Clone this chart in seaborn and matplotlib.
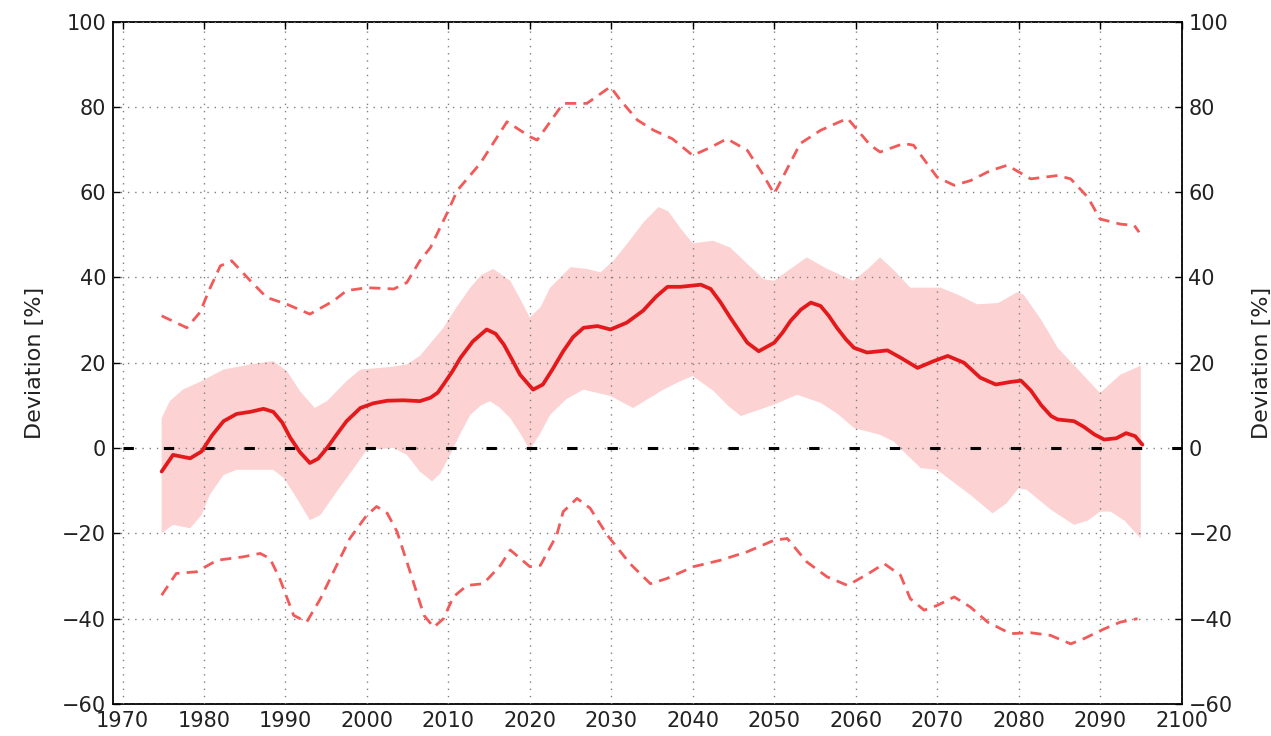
import numpy as np
import matplotlib
matplotlib.use("Agg")
import matplotlib.pyplot as plt
import seaborn as sns

# Ensemble mean deviation [%]
mean_years = [1974.8, 1976.2, 1978.3, 1979.7, 1981.0, 1982.4, 1984.0, 1985.7, 1987.3, 1988.5,
              1989.6, 1990.6, 1991.8, 1993.0, 1994.0, 1995.1, 1996.3, 1997.5, 1999.2, 2000.8,
              2002.5, 2004.5, 2006.5, 2007.8, 2008.7, 2009.4, 2010.5, 2011.5, 2013.0, 2014.7,
              2015.8, 2016.8, 2017.8, 2018.8, 2020.4, 2021.6, 2022.8, 2024.1, 2025.3, 2026.6,
              2028.3, 2029.9, 2031.9, 2033.9, 2035.5, 2036.9, 2038.5, 2041.0, 2042.2, 2043.4,
              2044.6, 2045.7, 2046.7, 2048.1, 2050.0, 2051.0, 2052.0, 2053.3, 2054.5, 2055.7,
              2056.7, 2057.7, 2058.8, 2059.8, 2061.4, 2063.9, 2065.5, 2067.6, 2069.6, 2071.3,
              2073.3, 2075.3, 2077.2, 2079.0, 2080.3, 2081.5, 2082.8, 2084.0, 2084.8, 2086.8,
              2088.0, 2089.3, 2090.5, 2092.0, 2093.2, 2094.3, 2095.2]
mean_vals = [-5.5, -1.6, -2.4, -0.8, 3.0, 6.3, 8.0, 8.5, 9.2, 8.5,
             6.0, 2.4, -1.0, -3.5, -2.5, 0.0, 3.2, 6.3, 9.4, 10.5,
             11.1, 11.2, 11.0, 11.8, 13.0, 14.9, 18.0, 21.2, 25.0, 27.8,
             26.8, 24.3, 20.8, 17.2, 13.7, 14.9, 18.5, 22.7, 26.0, 28.2,
             28.6, 27.8, 29.4, 32.2, 35.5, 37.8, 37.8, 38.3, 37.3, 34.2,
             30.6, 27.5, 24.7, 22.7, 24.7, 27.0, 29.8, 32.5, 34.1, 33.3,
             31.0, 28.2, 25.5, 23.5, 22.4, 22.9, 21.2, 18.8, 20.4, 21.6,
             20.0, 16.5, 14.9, 15.5, 15.8, 13.5, 10.0, 7.5, 6.7, 6.3,
             5.0, 3.2, 2.0, 2.3, 3.5, 2.8, 0.8]

# Upper edge of the shaded spread
band_hi_years = [1974.8, 1975.8, 1977.4, 1979.7, 1982.4, 1985.7, 1988.5, 1990.2, 1991.8, 1993.6,
                 1995.1, 1997.5, 1999.2, 2002.9, 2004.9, 2006.5, 2008.0, 2009.4, 2011.0, 2012.7,
                 2014.0, 2015.5, 2017.6, 2018.8, 2020.0, 2021.3, 2022.5, 2025.0, 2027.0, 2028.7,
                 2030.3, 2032.0, 2034.0, 2035.8, 2037.0, 2038.5, 2040.0, 2042.5, 2044.6, 2046.8,
                 2048.7, 2050.0, 2052.0, 2054.0, 2056.5, 2059.7, 2061.5, 2063.0, 2064.8, 2066.7,
                 2070.4, 2072.5, 2074.9, 2077.5, 2079.8, 2080.6, 2082.8, 2084.8, 2087.5, 2090.0,
                 2092.5, 2095.0]
band_hi_vals = [7.0, 11.0, 13.7, 15.7, 18.4, 19.6, 20.4, 18.0, 13.3, 9.4,
                11.0, 15.7, 18.4, 19.0, 19.6, 21.6, 25.0, 28.2, 33.0, 37.6,
                40.5, 42.0, 39.2, 35.0, 30.6, 33.0, 37.6, 42.4, 42.0, 41.2,
                44.0, 48.0, 53.0, 56.5, 55.5, 51.5, 48.0, 48.6, 47.0, 43.0,
                39.6, 39.2, 42.0, 44.7, 42.0, 39.2, 42.0, 44.7, 41.5, 37.6,
                37.6, 36.0, 33.7, 34.0, 36.5, 36.0, 30.0, 23.5, 18.0, 12.9,
                17.2, 19.3]

# Lower edge of the shaded spread
band_lo_years = [1974.8, 1976.2, 1978.3, 1979.7, 1980.7, 1982.4, 1984.0, 1988.5, 1989.8, 1991.4,
                 1993.0, 1994.3, 1996.3, 1998.4, 2000.0, 2003.3, 2004.9, 2006.5, 2008.0, 2009.0,
                 2010.2, 2011.5, 2012.7, 2014.0, 2015.1, 2016.3, 2017.6, 2018.8, 2020.0, 2021.3,
                 2022.5, 2024.5, 2026.6, 2029.9, 2032.7, 2034.5, 2036.4, 2038.5, 2040.0, 2042.6,
                 2044.3, 2045.9, 2050.0, 2052.8, 2055.7, 2057.8, 2059.8, 2063.0, 2064.7, 2066.3,
                 2068.0, 2070.0, 2072.0, 2074.1, 2076.8, 2078.5, 2080.0, 2081.0, 2084.0, 2086.8,
                 2088.5, 2090.0, 2091.3, 2093.0, 2095.0]
band_lo_vals = [-20.0, -18.0, -18.8, -15.7, -11.0, -6.3, -5.1, -5.1, -7.0, -11.8,
                -16.9, -15.7, -10.2, -4.7, -0.4, 0.0, -1.6, -5.5, -7.8, -6.0,
                -1.6, 3.5, 7.8, 10.0, 11.0, 9.5, 7.0, 3.5, -0.4, 3.5,
                7.8, 11.5, 13.7, 12.2, 9.4, 11.5, 13.7, 15.7, 16.9, 13.3,
                10.0, 7.5, 10.2, 12.5, 10.6, 8.0, 4.7, 3.1, 1.5, -1.6,
                -4.7, -5.1, -8.0, -11.0, -15.3, -13.0, -9.4, -9.8, -14.5, -18.0,
                -17.0, -14.9, -14.9, -17.0, -21.2]

# Ensemble maximum (upper dashed curve)
max_years = [1974.8, 1977.9, 1979.5, 1980.7, 1982.0, 1983.4, 1985.7, 1987.7, 1990.2, 1993.0,
             1995.9, 1997.5, 2000.0, 2003.3, 2004.9, 2006.5, 2007.8, 2009.8, 2011.1, 2013.9,
             2017.2, 2020.0, 2020.9, 2024.1, 2027.0, 2029.9, 2031.1, 2033.2, 2035.2, 2037.5,
             2040.0, 2042.2, 2044.2, 2046.7, 2048.5, 2050.0, 2053.2, 2055.7, 2059.0, 2061.8,
             2063.0, 2065.9, 2067.1, 2070.0, 2072.1, 2074.1, 2076.5, 2078.6, 2081.5, 2084.8,
             2086.4, 2088.5, 2090.0, 2092.5, 2094.2, 2094.8]
max_vals = [31.0, 28.2, 31.8, 37.3, 42.7, 43.9, 39.2, 35.3, 33.7, 31.4,
            34.5, 36.9, 37.6, 37.3, 38.8, 43.9, 47.0, 54.9, 60.4, 66.7,
            76.5, 73.0, 72.2, 80.8, 80.8, 84.7, 81.6, 76.9, 74.5, 72.5,
            68.6, 70.5, 72.5, 69.8, 64.5, 59.6, 71.4, 74.5, 77.3, 71.0,
            69.4, 71.4, 71.0, 63.5, 61.6, 62.7, 65.0, 66.3, 63.1, 63.9,
            63.1, 58.8, 53.7, 52.5, 52.2, 50.6]

# Ensemble minimum (lower dashed curve)
min_years = [1974.8, 1976.6, 1979.1, 1981.6, 1984.8, 1986.9, 1988.1, 1989.3, 1991.0, 1992.6,
             1994.3, 1995.9, 1997.9, 2000.0, 2001.2, 2002.5, 2003.7, 2005.3, 2007.0, 2008.2,
             2009.4, 2010.6, 2012.3, 2014.3, 2016.4, 2017.6, 2020.0, 2021.3, 2023.3, 2024.1,
             2025.8, 2027.4, 2029.5, 2032.3, 2034.8, 2036.8, 2040.1, 2043.4, 2046.7, 2050.0,
             2051.6, 2054.0, 2056.5, 2059.0, 2061.5, 2063.5, 2065.5, 2066.7, 2068.4, 2070.0,
             2072.1, 2074.1, 2076.2, 2079.0, 2081.5, 2083.9, 2086.4, 2088.0, 2090.5, 2092.5,
             2094.6]
min_vals = [-34.5, -29.4, -29.0, -26.3, -25.5, -24.7, -25.9, -30.6, -39.2, -40.8,
            -35.3, -29.0, -21.2, -15.7, -13.7, -15.3, -19.6, -29.0, -39.2, -42.0,
            -40.0, -34.9, -32.2, -31.8, -27.5, -23.9, -27.8, -27.5, -20.4, -14.9,
            -11.8, -14.1, -20.4, -27.1, -31.8, -30.6, -27.8, -26.3, -24.3, -21.6,
            -21.2, -26.7, -30.2, -32.2, -29.5, -27.1, -29.8, -35.3, -38.0, -36.9,
            -34.9, -37.3, -40.8, -43.5, -43.3, -43.9, -45.9, -44.7, -42.4, -40.8,
            -40.0]

# Reference (zero-deviation) line
zero_years = [1970, 2100]
zero_vals = [0, 0]

x_ticks = list(range(1970, 2101, 10))
y_ticks = list(range(-60, 101, 20))
y_label = "Deviation [%]"

sns.set_theme(style="white")
plt.rcParams["font.family"] = ["DejaVu Sans"]
plt.rcParams["axes.unicode_minus"] = True

W, H = 1271, 736
fig = plt.figure(figsize=(W / 100, H / 100), dpi=100)
fig.patch.set_facecolor("white")
ax = fig.add_axes([113 / W, 1 - 704 / H, (1181.5 - 113) / W, (704 - 21.5) / H])
ax.set_facecolor("white")

# shaded spread
ax.fill(np.r_[band_hi_years, band_lo_years[::-1]],
        np.r_[band_hi_vals, band_lo_vals[::-1]],
        color="#fcd2d2", lw=0, zorder=1)

# zero line
sns.lineplot(x=zero_years, y=zero_vals, ax=ax, color="black", lw=2.2,
             linestyle=(0, (3.4, 9.8)), zorder=3)

# extremes
dash_red = "#f25a5a"
for xs, ys in ((max_years, max_vals), (min_years, min_vals)):
    sns.lineplot(x=xs, y=ys, ax=ax, color=dash_red, lw=2.0,
                 linestyle=(0, (4, 2.6)), sort=False, estimator=None, zorder=4)

# mean
sns.lineplot(x=mean_years, y=mean_vals, ax=ax, color="#e3191c", lw=2.7,
             sort=False, estimator=None, zorder=5)
for ln in ax.get_lines():
    ln.set_solid_joinstyle("round")
    ln.set_dash_joinstyle("round")

ax.set_xlim(1968.83, 2100)
ax.set_ylim(-60, 100)
ax.set_xticks(x_ticks)
ax.set_yticks(y_ticks)
ax.grid(True, color="0.5", linestyle=(0, (1, 4.2)), lw=1.0)
ax.set_axisbelow(False)
for gl in ax.get_xgridlines() + ax.get_ygridlines():
    gl.set_zorder(2)

ax.tick_params(direction="in", length=5, width=1.0, colors="black",
               labelsize=15, top=True, right=True, labelcolor="#222222", pad=5)
for sp in ax.spines.values():
    sp.set_visible(True)
    sp.set_color("black")
    sp.set_linewidth(1.3)
ax.set_xlabel("")
ax.set_ylabel(y_label, fontsize=16, color="#222222", labelpad=12)

ax2 = ax.twinx()
ax2.set_ylim(ax.get_ylim())
ax2.set_yticks(y_ticks)
ax2.tick_params(direction="in", length=5, width=1.0, colors="black",
                labelsize=15, labelcolor="#222222", pad=5)
ax2.set_ylabel(y_label, fontsize=16, color="#222222", labelpad=14)
ax2.grid(False)
for sp in ax2.spines.values():
    sp.set_visible(False)

fig.savefig("out.png", dpi=100, facecolor="white")
